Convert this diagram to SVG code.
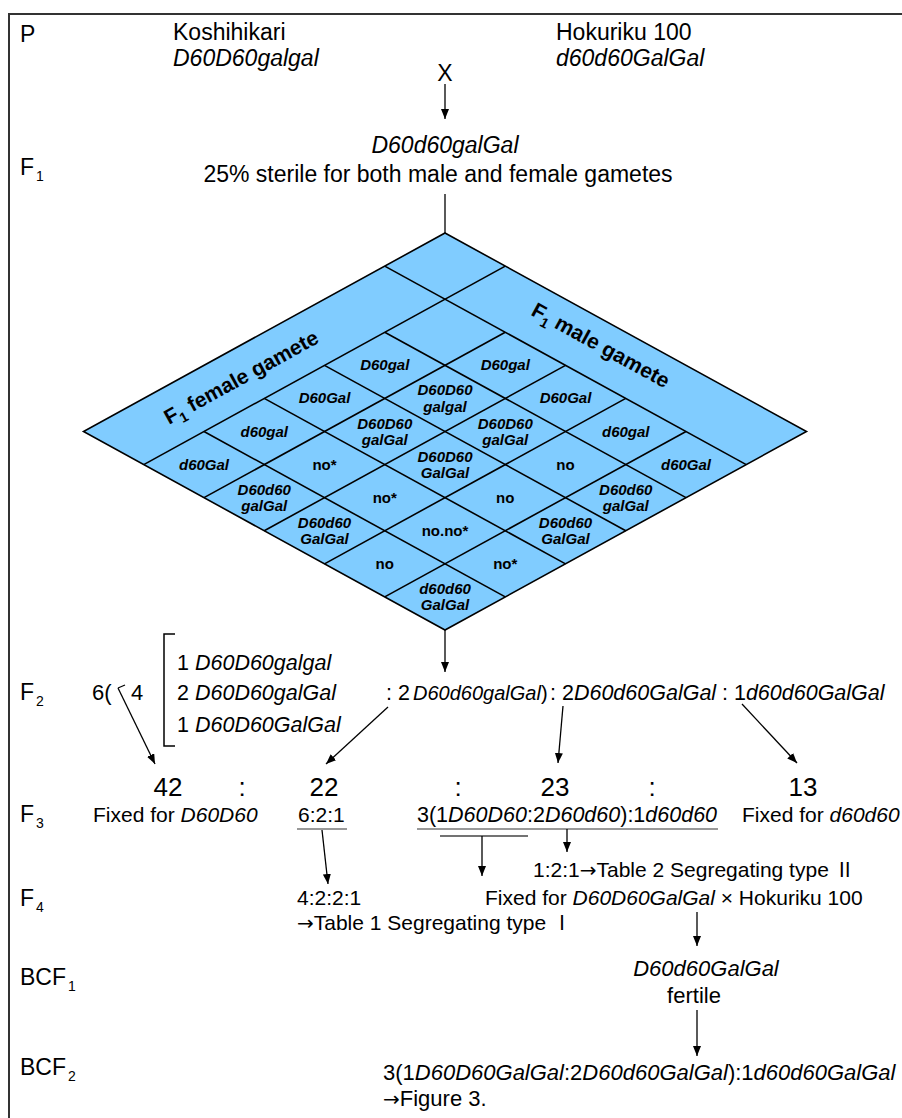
<svg xmlns="http://www.w3.org/2000/svg" width="902" height="1118" viewBox="0 0 902 1118">
<style>
text{font-family:"Liberation Sans",Arial,"DejaVu Sans","Noto Sans CJK JP",sans-serif;fill:#000}
.t23{font-size:23px}
.t22{font-size:22px}
.t21{font-size:21px}
.t215{font-size:21.5px}
.i{font-style:italic}
.sub{font-size:14px}
.c{font-size:15px;font-weight:bold;text-anchor:middle}
.ci{font-style:italic}
.hd{font-size:21px;font-weight:bold;text-anchor:middle}
.num{font-size:26px;text-anchor:middle}
.m{text-anchor:middle}
.rn{font-family:"Noto Sans CJK JP","DejaVu Sans",sans-serif;font-size:20px}
.arw{font-family:"DejaVu Sans",sans-serif;font-size:20px}
.ln{stroke:#000;stroke-width:1.3;fill:none}
.ar{stroke:#000;stroke-width:1.3;fill:none;marker-end:url(#ah)}
.grid{stroke:#000;stroke-width:1.6;fill:none}
.ul{stroke:#777;stroke-width:1.5}
</style>
<defs>
<marker id="ah" viewBox="0 0 10 8" refX="10" refY="4" markerWidth="10" markerHeight="8" markerUnits="userSpaceOnUse" orient="auto"><path d="M0,0 L10,4 L0,8 z" fill="#000"/></marker>
</defs>
<rect width="902" height="1118" fill="#fff"/>
<g id="frame"><path d="M902,14 H9 V1118" stroke="#333" stroke-width="2" fill="none"/></g>

<g id="labels" class="t23">
<text x="20" y="42">P</text>
<text x="20" y="175">F<tspan class="sub" dx="2" dy="6">1</tspan></text>
<text x="20" y="700">F<tspan class="sub" dx="2" dy="6">2</tspan></text>
<text x="20" y="822">F<tspan class="sub" dx="2" dy="6">3</tspan></text>
<text x="20" y="906">F<tspan class="sub" dx="2" dy="6">4</tspan></text>
<text x="20" y="985">BCF<tspan class="sub" dx="2" dy="6">1</tspan></text>
<text x="20" y="1075">BCF<tspan class="sub" dx="2" dy="6">2</tspan></text>
</g>

<g id="parent-koshihikari" class="t23">
<text x="173" y="40">Koshihikari</text>
<text x="173" y="66" class="i">D60D60galgal</text>
</g>
<g id="parent-hokuriku" class="t23">
<text x="556" y="40">Hokuriku 100</text>
<text x="556" y="66" class="i">d60d60GalGal</text>
</g>
<g id="cross"><text x="445" y="81" class="t23 m">X</text></g>
<g id="f1" class="t23">
<text x="445" y="153" class="i m">D60d60galGal</text>
<text x="438" y="182" class="m">25% sterile for both male and female gametes</text>
</g>

<g id="punnett">
<polygon points="445,233 806.5,431.5 445,630 83.5,431.5" fill="#80CCFF" stroke="#000" stroke-width="1.6"/>
<g class="grid">
<line x1="384.75" y1="266.08" x2="746.25" y2="464.58"/>
<line x1="384.75" y1="332.25" x2="686" y2="497.67"/>
<line x1="324.5" y1="365.33" x2="625.75" y2="530.75"/>
<line x1="264.25" y1="398.42" x2="565.5" y2="563.83"/>
<line x1="204" y1="431.5" x2="505.25" y2="596.92"/>
<line x1="505.25" y1="266.08" x2="143.75" y2="464.58"/>
<line x1="505.25" y1="332.25" x2="204" y2="497.67"/>
<line x1="565.5" y1="365.33" x2="264.25" y2="530.75"/>
<line x1="625.75" y1="398.42" x2="324.5" y2="563.83"/>
<line x1="686" y1="431.5" x2="384.75" y2="596.92"/>
</g>
<text class="hd" transform="translate(241,377) rotate(-28.77)" y="7.5">F<tspan font-size="14" dy="5">1</tspan><tspan dy="-5"> female gamete</tspan></text>
<text class="hd" transform="translate(601,345) rotate(28.77)" y="7.5">F<tspan font-size="14" dy="5">1</tspan><tspan dy="-5"> male gamete</tspan></text>
</g>

<g id="female-gametes" class="c ci">
<text x="384.75" y="370.3">D60gal</text>
<text x="324.5" y="403.4">D60Gal</text>
<text x="264.25" y="436.5">d60gal</text>
<text x="204" y="469.6">d60Gal</text>
</g>
<g id="male-gametes" class="c ci">
<text x="505.25" y="370.3">D60gal</text>
<text x="565.5" y="403.4">D60Gal</text>
<text x="625.75" y="436.5">d60gal</text>
<text x="686" y="469.6">d60Gal</text>
</g>
<g id="offspring" class="c">
<text class="ci" x="445" y="395.4">D60D60<tspan x="445" dy="16.5">galgal</tspan></text>
<text class="ci" x="505.25" y="428.5">D60D60<tspan x="505.25" dy="16.5">galGal</tspan></text>
<text x="565.5" y="469.6">no</text>
<text class="ci" x="625.75" y="494.7">D60d60<tspan x="625.75" dy="16.5">galGal</tspan></text>
<text class="ci" x="384.75" y="428.5">D60D60<tspan x="384.75" dy="16.5">galGal</tspan></text>
<text class="ci" x="445" y="461.6">D60D60<tspan x="445" dy="16.5">GalGal</tspan></text>
<text x="505.25" y="502.7">no</text>
<text class="ci" x="565.5" y="527.8">D60d60<tspan x="565.5" dy="16.5">GalGal</tspan></text>
<text x="324.5" y="469.6">no*</text>
<text x="384.75" y="502.7">no*</text>
<text x="445" y="535.8">no.no*</text>
<text x="505.25" y="568.8">no*</text>
<text class="ci" x="264.25" y="494.7">D60d60<tspan x="264.25" dy="16.5">galGal</tspan></text>
<text class="ci" x="324.5" y="527.8">D60d60<tspan x="324.5" dy="16.5">GalGal</tspan></text>
<text x="384.75" y="568.8">no</text>
<text class="ci" x="445" y="593.9">d60d60<tspan x="445" dy="16.5">GalGal</tspan></text>
</g>

<g id="f2">
<text x="92" y="700" class="t22">6(</text>
<text x="131" y="700" class="t22">4</text>
<path d="M175,634 H164 V746 H175" stroke="#000" stroke-width="1.5" fill="none"/>
<text x="177" y="670" class="t215">1 <tspan class="i">D60D60galgal</tspan></text>
<text x="177" y="700" class="t215">2 <tspan class="i">D60D60galGal</tspan></text>
<text x="177" y="732" class="t215">1 <tspan class="i">D60D60GalGal</tspan></text>
<text y="700" class="t215"><tspan x="386">: 2 </tspan><tspan x="413" class="i" font-size="20">D60d60galGal</tspan><tspan font-size="20">)</tspan><tspan x="550">: 2</tspan><tspan class="i">D60d60GalGal</tspan><tspan x="722">: 1</tspan><tspan class="i">d60d60GalGal</tspan></text>
</g>

<g id="f3-counts">
<text x="168" y="796" class="num">42</text>
<text x="242" y="796" class="num">:</text>
<text x="324" y="796" class="num">22</text>
<text x="458" y="796" class="num">:</text>
<text x="555" y="796" class="num">23</text>
<text x="652" y="796" class="num">:</text>
<text x="803" y="796" class="num">13</text>
</g>
<g id="f3-text">
<text x="93" y="822" class="t21">Fixed for <tspan class="i">D60D60</tspan></text>
<text x="298" y="822" class="t21">6:2:1</text>
<line class="ul" x1="297" y1="829" x2="347" y2="829"/>
<text x="417" y="822" class="t215">3(1<tspan class="i">D60D60</tspan>:2<tspan class="i">D60d60</tspan>):1<tspan class="i">d60d60</tspan></text>
<line class="ul" x1="417" y1="829" x2="718" y2="829"/>
<line x1="440" y1="836" x2="528" y2="836" stroke="#444" stroke-width="1.5"/>
<text x="742" y="822" class="t21">Fixed for <tspan class="i">d60d60</tspan></text>
</g>

<g id="f4" class="t21">
<text x="297" y="905">4:2:2:1</text>
<text x="297" y="930"><tspan class="arw">→</tspan>Table 1 Segregating type <tspan class="rn">Ⅰ</tspan></text>
<text x="533" y="877">1:2:1<tspan class="arw">→</tspan>Table 2  Segregating type <tspan class="rn">Ⅱ</tspan></text>
<text x="485" y="905">Fixed for <tspan class="i">D60D60GalGal</tspan> × Hokuriku 100</text>
</g>

<g id="bcf1" class="t22">
<text x="706" y="976" class="i m">D60d60GalGal</text>
<text x="694" y="1003" class="m">fertile</text>
</g>
<g id="bcf2" class="t22">
<text x="383" y="1080">3(1<tspan class="i">D60D60GalGal</tspan>:2<tspan class="i">D60d60GalGal</tspan>):1<tspan class="i">d60d60GalGal</tspan></text>
<text x="383" y="1106"><tspan class="arw">→</tspan>Figure 3.</text>
</g>

<g id="connectors">
<line class="ar" x1="445" y1="84" x2="445" y2="119"/>
<line class="ln" x1="445" y1="194" x2="445" y2="233"/>
<line class="ar" x1="445" y1="630" x2="445" y2="672"/>
<line class="ln" x1="118" y1="688" x2="125" y2="685"/>
<line class="ar" x1="118" y1="688" x2="155" y2="764"/>
<line class="ar" x1="388" y1="707" x2="326" y2="764"/>
<line class="ar" x1="563" y1="706" x2="558" y2="763"/>
<line class="ar" x1="742" y1="704" x2="797" y2="763"/>
<line class="ar" x1="322" y1="830" x2="328" y2="884"/>
<line class="ar" x1="482" y1="836" x2="482" y2="876"/>
<line class="ar" x1="567" y1="829" x2="567" y2="852"/>
<line class="ar" x1="697" y1="912" x2="697" y2="946"/>
<line class="ar" x1="697" y1="1010" x2="697" y2="1056"/>
</g>
</svg>
